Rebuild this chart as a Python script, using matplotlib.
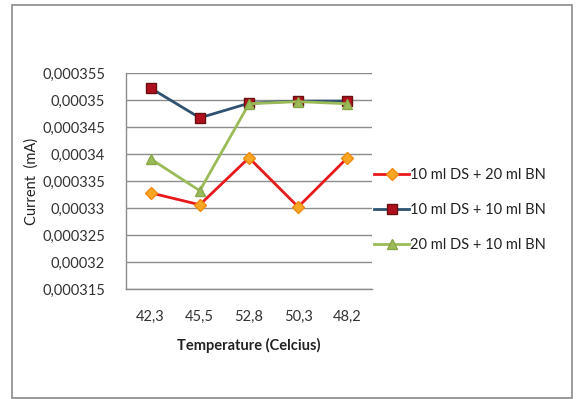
import matplotlib
matplotlib.use("Agg")
import matplotlib.pyplot as plt
from matplotlib.patches import Rectangle

plt.rcParams['font.family'] = ['Lato', 'DejaVu Sans']

temperatures = ["42,3", "45,5", "52,8", "50,3", "48,2"]
series_a = [0.0003328, 0.0003306, 0.0003393, 0.0003302, 0.0003393]   # 10 ml DS + 20 ml BN
series_b = [0.0003522, 0.0003467, 0.0003494, 0.0003498, 0.0003498]   # 10 ml DS + 10 ml BN
series_c = [0.0003391, 0.0003332, 0.0003493, 0.0003497, 0.0003493]   # 20 ml DS + 10 ml BN
labels = ["10 ml DS + 20 ml BN", "10 ml DS + 10 ml BN", "20 ml DS + 10 ml BN"]
y_ticks = [0.000315, 0.00032, 0.000325, 0.00033, 0.000335, 0.00034, 0.000345, 0.00035, 0.000355]

fig = plt.figure(figsize=(5.78, 3.99), dpi=100)
fig.patch.set_facecolor("white")

# outer chart frame
fig.patches.append(Rectangle((12 / 578, 1 / 399), 560 / 578, 393 / 399,
                             transform=fig.transFigure, fill=False,
                             edgecolor="#8a8a8a", linewidth=1.2))

ax = fig.add_axes([126 / 578, 1 - 289 / 399, 246 / 578, 216 / 399])
x = list(range(len(temperatures)))

ax.plot(x, series_a, color="#e8191d", linewidth=2.0, marker="D", markersize=6.5,
        markerfacecolor="#f9a623", markeredgecolor="#f08a10", label=labels[0], zorder=3)
ax.plot(x, series_b, color="#2e5270", linewidth=2.0, marker="s", markersize=7.5,
        markerfacecolor="#b0101e", markeredgecolor="#6a1010", label=labels[1], zorder=3)
ax.plot(x, series_c, color="#9bbb59", linewidth=2.0, marker="^", markersize=7.5,
        markerfacecolor="#9bbb59", markeredgecolor="#8aa84a", label=labels[2], zorder=4)

ax.set_xlim(-0.5, len(temperatures) - 0.5)
ax.set_ylim(0.000315, 0.000355)
ax.set_yticks(y_ticks)
ax.set_yticklabels([f"{v:.6f}".rstrip("0").replace(".", ",") for v in y_ticks])
ax.set_xticks(x)
ax.set_xticklabels(temperatures)
ax.tick_params(axis="both", length=0, labelsize=10.5, colors="#333333")
ax.tick_params(axis="y", pad=15)
ax.tick_params(axis="x", pad=15)

ax.grid(axis="y", color="#8c8c8c", linewidth=1.0)
ax.set_axisbelow(True)
for side in ("top", "right"):
    ax.spines[side].set_visible(False)
for side in ("left", "bottom"):
    ax.spines[side].set_color("#8c8c8c")
    ax.spines[side].set_linewidth(1.0)

ax.set_xlabel("Temperature (Celcius)", fontsize=10.5, fontweight="bold", color="#222222")
ax.xaxis.set_label_coords(0.5, -0.225)
ax.set_ylabel("Current  (mA)", fontsize=10.5, color="#222222")
ax.yaxis.set_label_coords(-0.355, 0.5)

leg = ax.legend(loc="center left", bbox_to_anchor=(1.0, 0.365), frameon=False,
                fontsize=10.5, handlelength=2.4, handletextpad=0.08,
                labelspacing=1.45, borderaxespad=0.0, borderpad=0.15,
                labelcolor="#222222")

fig.savefig("out.png", dpi=100, facecolor="white")
